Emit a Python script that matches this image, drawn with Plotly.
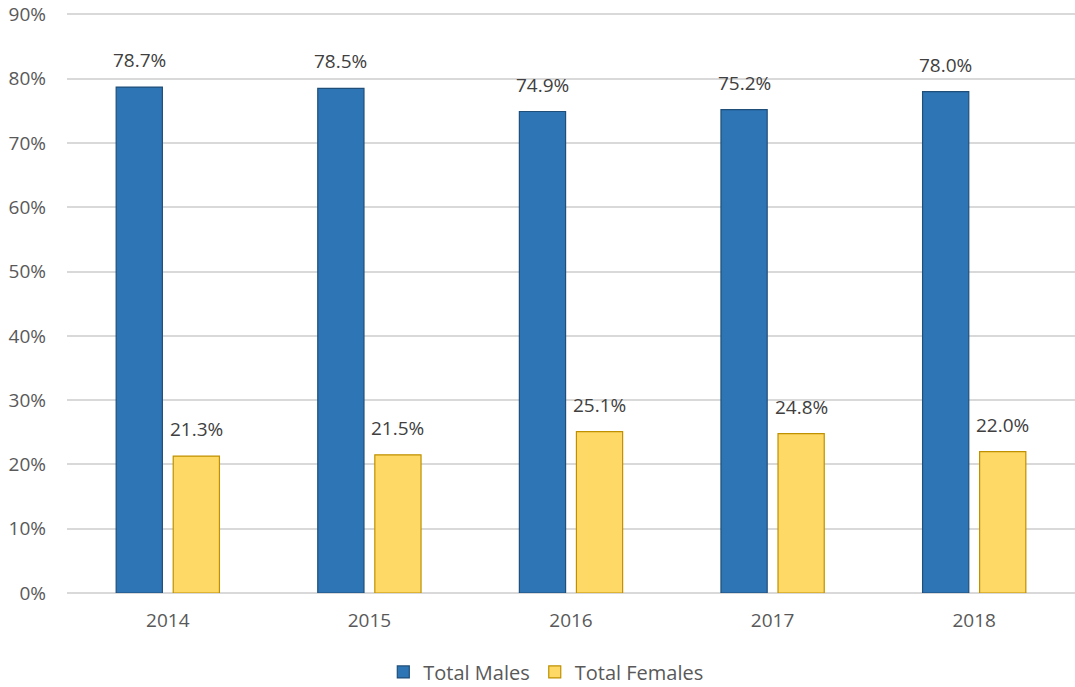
import plotly.graph_objects as go

years = ["2014", "2015", "2016", "2017", "2018"]
males = [78.7, 78.5, 74.9, 75.2, 78.0]
females = [21.3, 21.5, 25.1, 24.8, 22.0]
tick_vals = [0, 10, 20, 30, 40, 50, 60, 70, 80, 90]
tick_text = [f"{v}%" for v in tick_vals]

font_family = "Open Sans, Liberation Sans, sans-serif"
grey = "#595959"
label_color = "#404040"

fig = go.Figure()
fig.add_trace(go.Bar(
    x=years, y=males, name="Total Males",
    marker=dict(color="#2E75B6", line=dict(color="#1F4E79", width=1.2)),
))
fig.add_trace(go.Bar(
    x=years, y=females, name="Total Females",
    marker=dict(color="#FFD966", line=dict(color="#BF9000", width=1.2)),
))

# data labels, placed above each bar via the axes (category index positions)
for series, shift in ((males, -28.5), (females, 28.5)):
    for i, v in enumerate(series):
        fig.add_annotation(x=i, y=v, xref="x", yref="y", text=f"{v:.1f}%",
                           showarrow=False, xshift=shift, yshift=12, yanchor="bottom",
                           font=dict(size=19, color=label_color, family=font_family))

fig.update_layout(
    width=1075, height=687,
    margin=dict(l=67, r=0, t=8, b=94, autoexpand=False),
    paper_bgcolor="white", plot_bgcolor="white",
    barmode="group", bargap=0.434, bargroupgap=0.19,
    font=dict(family=font_family, color=grey, size=18),
    showlegend=True,
    legend=dict(orientation="h", x=0.475, xanchor="center", y=-0.135, yanchor="middle",
                font=dict(size=20, color=grey), itemwidth=30, tracegroupgap=0),
    xaxis=dict(type="category", showgrid=False, showline=False, ticks="", ticklabelstandoff=14,
               tickfont=dict(size=19, color=grey)),
    yaxis=dict(range=[0, 91], tickvals=tick_vals, ticktext=tick_text,
               showgrid=True, gridcolor="#D9D9D9", gridwidth=1.5,
               zeroline=True, zerolinecolor="#D9D9D9", zerolinewidth=1.5,
               showline=False, ticks="", ticklabelstandoff=20,
               tickfont=dict(size=19, color=grey)),
)

fig.write_html("out.html", config={"displayModeBar": False},
               post_script="document.body.style.margin='0';")
